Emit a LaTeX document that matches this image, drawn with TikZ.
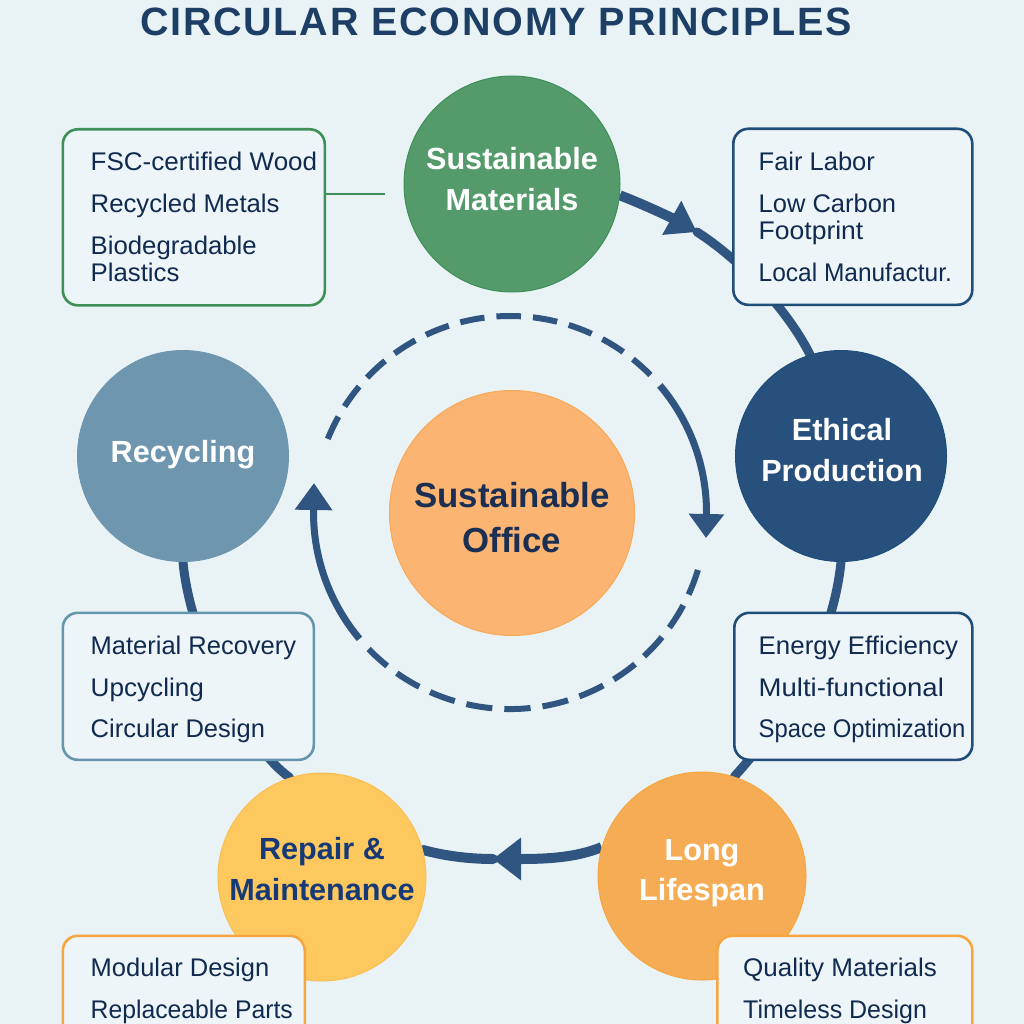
\documentclass[tikz,border=0pt]{standalone}
\usepackage{fontspec}
\setmainfont{Liberation Sans}
\usetikzlibrary{arrows.meta,backgrounds,calc}
\definecolor{bgc}{HTML}{E9F3F6}
\definecolor{boxc}{HTML}{EDF5F8}
\definecolor{ringc}{HTML}{2F5580}
\definecolor{titlec}{HTML}{1D3F66}
\definecolor{inkc}{HTML}{102A50}
\definecolor{darkc}{HTML}{1A2F52}
\definecolor{greenf}{HTML}{549A6A}
\definecolor{greenb}{HTML}{3E9058}
\definecolor{navyf}{HTML}{28507C}
\definecolor{navyb}{HTML}{1F4E7A}
\definecolor{recf}{HTML}{6E96AE}
\definecolor{recb}{HTML}{6496AC}
\definecolor{longf}{HTML}{F6AC55}
\definecolor{repf}{HTML}{FDC85E}
\definecolor{repink}{HTML}{163A78}
\definecolor{cenf}{HTML}{FBB471}
\definecolor{cenb}{HTML}{F9A857}
\definecolor{orb}{HTML}{F6A63F}
\tikzset{
 x=1pt,y=-1pt,
 disc/.style={circle,inner sep=0pt,line width=1pt},
 disclabel/.style={inner sep=0pt,align=center,font=\fontsize{30.6}{40.5}\selectfont\bfseries},
 infobox/.style={draw,line width=2.6pt,fill=boxc,rounded corners=15pt,inner sep=0pt,anchor=north west},
 itemline/.style={anchor=base west,inner sep=0pt,text=inkc,font=\fontsize{25.5}{30}\selectfont},
 thick arc/.style={draw=ringc,line width=9pt,line cap=round},
 ring dash/.style={draw=ringc,line width=6pt},
 ring solid/.style={draw=ringc,line width=7pt},
}
\newcommand{\itm}[5][1]{\node[itemline] (#2) at (#3,#4) {\scalebox{#1}[1]{#5}};}
\begin{document}
\begin{tikzpicture}
\useasboundingbox (0,0) rectangle (1024,1024);
\clip (0,0) rectangle (1024,1024);
% circles
\node[disc,minimum size=216pt,fill=greenf,draw=greenb] (sm) at (512,184) {};
\node[disc,minimum size=211pt,fill=navyf,draw=navyb] (ep) at (841,456) {};
\node[disc,minimum size=208pt,fill=longf,draw=orb] (ll) at (702,876) {};
\node[disc,minimum size=208pt,fill=repf,draw=repf!70!orb] (rm) at (322,877) {};
\node[disc,minimum size=211pt,fill=recf,draw=recf] (rc) at (183,456) {};
\node[disc,minimum size=245pt,fill=cenf,draw=cenb] (so) at (512,513) {};
% circle labels
\node[disclabel,text=white] (sml) at (512,179) {Sustainable\\Materials};
\node[disclabel,text=white] (epl) at (842,450) {Ethical\\Production};
\node[disclabel,text=white] (lll) at (702,873) {Long\\Lifespan};
\node[disclabel,text=repink] (rml) at (322,869) {Repair \&\\Maintenance};
\node[disclabel,text=white] (rcl) at (183,455) {Recycling};
\node[disclabel,text=darkc,font=\fontsize{34.8}{45}\selectfont\bfseries] (sol) at (512,518) {Sustainable\\Office};
% boxes
\node[infobox,draw=greenb,minimum width=262pt,minimum height=176pt] (b1) at (61.5,128) {};
\node[infobox,draw=navyb,minimum width=239pt,minimum height=176pt] (b2) at (732,127.5) {};
\node[infobox,draw=navyb,minimum width=238pt,minimum height=147pt] (b3) at (733,611.5) {};
\node[infobox,draw=recb,minimum width=251pt,minimum height=147pt] (b4) at (61.5,611.5) {};
\node[infobox,draw=orb,minimum width=242pt,minimum height=148pt] (b5) at (61.5,934.5) {};
\node[infobox,draw=orb,minimum width=255pt,minimum height=148pt] (b6) at (716,934.5) {};
% items
\itm[1.02]{t11}{90.5}{171}{FSC-certified Wood}
\itm[1.01]{t12}{90.5}{212.5}{Recycled Metals}
\itm[1.01]{t13}{90.5}{254}{Biodegradable}
\itm[1.01]{t14}{90.5}{281.5}{Plastics}
\itm{t21}{758.5}{171}{Fair Labor}
\itm{t22}{758.5}{212.5}{Low Carbon}
\itm[1.04]{t23}{758.5}{240}{Footprint}
\itm[0.96]{t24}{758.5}{281}{Local Manufactur.}
\itm[1.015]{t31}{758.5}{654.5}{Energy Efficiency}
\itm[1.08]{t32}{758.5}{696.5}{Multi-functional}
\itm[0.935]{t33}{758.5}{737.5}{Space Optimization}
\itm{t41}{90.5}{654.5}{Material Recovery}
\itm[1.025]{t42}{90.5}{696.5}{Upcycling}
\itm{t43}{90.5}{737.5}{Circular Design}
\itm{t51}{90.5}{976}{Modular Design}
\itm[0.97]{t52}{90.5}{1018}{Replaceable Parts}
\itm[1.02]{t61}{743}{976}{Quality Materials}
\itm[0.98]{t62}{743}{1018}{Timeless Design}
% title
\node[inner sep=0pt,anchor=base,text=titlec,font=\fontsize{39.5}{44}\selectfont\bfseries\addfontfeatures{LetterSpace=4.5}] (title) at (496,36) {CIRCULAR ECONOMY PRINCIPLES};
\begin{scope}[on background layer]
\fill[bgc] (0,0) rectangle (1024,1024);
% green leader
\coordinate (gl) at (385,194);
\draw[greenb,line width=2pt] (b1.east |- gl) -- (gl);
% outer cycle
\coordinate (a1) at (697,232);
\coordinate (a2) at (493,859);
\path[thick arc,line width=10pt,line cap=butt,-{Triangle[length=29pt,width=37pt]}] (sm.-6) .. controls (645,205) and (672,218) .. (a1);
\path[thick arc] (a1) .. controls (735,256) and (785,305) .. (ep.107);
\path[thick arc] (ep.-90) .. controls (833,640) and (790,715) .. (ll.72);
\path[thick arc,line width=10pt,line cap=butt,-{Triangle[length=28pt,width=41pt]}] (ll.164) .. controls (575,858) and (545,859) .. (a2);
\path[thick arc,line width=10pt] (a2) .. controls (470,859) and (445,856) .. (rm.15);
\path[thick arc] (rm.108) .. controls (245,745) and (190,640) .. (rc.-90);
% inner ring
\coordinate (ic) at (510,512.5);
\coordinate (tipr) at (706,538);
\coordinate (tipl) at (314,483);
\path[ring dash,dash pattern=on 24.6pt off 12pt] ($(ic)+(202:196.5)$) arc[start angle=202,end angle=315.6,radius=196.5];
\path[ring solid,-{Triangle[length=24pt,width=34pt]}] ($(ic)+(-40.3:196.5)$) arc[start angle=-40.3,end angle=0,radius=196.5] -- (tipr);
\path[ring dash,dash pattern=on 26.3pt off 12pt] ($(ic)+(17:196.5)$) arc[start angle=17,end angle=136,radius=196.5];
\path[ring solid,-{Triangle[length=27pt,width=36pt]}] ($(ic)+(140:196.5)$) arc[start angle=140,end angle=180,radius=196.5] -- (tipl);
\end{scope}
\end{tikzpicture}
\end{document}
